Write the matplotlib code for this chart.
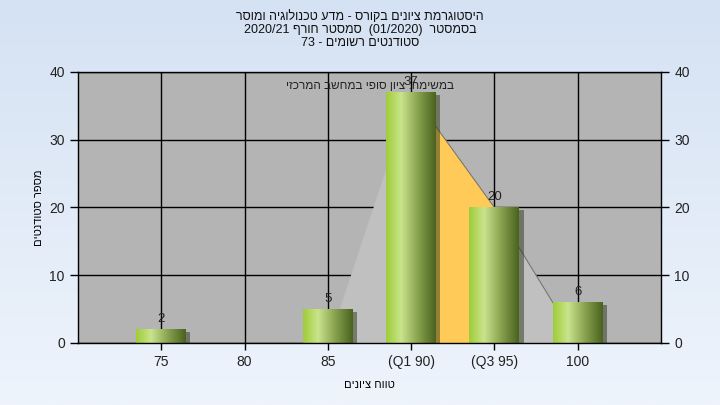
import re
import numpy as np
import matplotlib
matplotlib.use("Agg")
import matplotlib.pyplot as plt
import matplotlib.patheffects as pe
from matplotlib.colors import LinearSegmentedColormap

plt.rcParams['font.family'] = ['Liberation Sans', 'DejaVu Sans']

# data
categories = ["75", "80", "85", "(Q1 90)", "(Q3 95)", "100"]
counts = [2, 0, 5, 37, 20, 6]
quartile_area = [0, 0, 0, 37, 20, 0]
title_lines = [
    "היסטוגרמת ציונים בקורס - מדע טכנולוגיה ומוסר",
    "בסמסטר  (01/2020)  סמסטר חורף 2020/21",
    "סטודנטים רשומים - 73",
]
note = "במשימה: ציון סופי במחשב המרכזי"
x_label = "טווח ציונים"
y_label = "מספר סטודנטים"


def rtl(s):
    # matplotlib lays glyphs out left to right, so put hebrew in visual order
    s = s[::-1]
    s = re.sub(r'[0-9A-Za-z/.]+', lambda m: m.group(0)[::-1], s)
    return s.translate(str.maketrans('()', ')('))


fig = plt.figure(figsize=(7.2, 4.05), dpi=100)

# page background gradient
bg = fig.add_axes([0, 0, 1, 1], zorder=0)
bg_cmap = LinearSegmentedColormap.from_list("bg", ["#eef4fc", "#d5e2f3"])
bg.imshow(np.linspace(0, 1, 256).reshape(-1, 1)[::-1], cmap=bg_cmap,
          aspect='auto', extent=[0, 1, 0, 1])
bg.axis('off')

ax = fig.add_axes([78 / 720, 62 / 405, 583 / 720, 271 / 405], zorder=1)
ax.set_facecolor('#b4b4b4')
x = np.arange(len(categories))

ax.set_axisbelow(True)
ax.grid(True, color='black', linewidth=1)

ax.fill_between(x, quartile_area, color='#c0c0c0', linewidth=0, zorder=1)
ax.fill_between(x[3:5], quartile_area[3:5], color='#ffca58', linewidth=0, zorder=1.1)
ax.plot(x[3:], quartile_area[3:], color='#6e6e6e', linewidth=0.7, zorder=1.2)

bars = ax.bar(x, counts, width=0.6, color='#8fb04a', zorder=2,
              path_effects=[pe.SimplePatchShadow(offset=(3, -2), alpha=0.5),
                            pe.Normal()])
bar_cmap = LinearSegmentedColormap.from_list(
    "bar", [(0, '#a0cd3a'), (0.3, '#c9e48c'), (0.65, '#87a14e'), (1, '#4a6420')])
grad = np.linspace(0, 1, 64).reshape(1, -1)
for b in bars:
    if b.get_height() <= 0:
        continue
    im = ax.imshow(grad, cmap=bar_cmap, aspect='auto', zorder=2.1,
                   extent=[b.get_x(), b.get_x() + b.get_width(), 0, b.get_height()])
    im.set_clip_path(b)

ax.bar_label(bars, labels=[str(c) if c else '' for c in counts],
             padding=3, fontsize=9.5, color='#222222', zorder=3)

ax.set_xlim(-1, len(categories))
ax.set_ylim(0, 40)
ax.set_xticks(x)
ax.set_xticklabels(categories)
ax.set_yticks(range(0, 41, 10))
ax.tick_params(axis='y', direction='out', length=6, width=1, labelsize=10,
               right=True, labelright=True, labelcolor='#222222')
ax.tick_params(axis='x', direction='out', length=5, width=1, labelsize=10,
               labelcolor='#222222')
for s in ax.spines.values():
    s.set_color('black')
    s.set_linewidth(1)

ax.text(0.5, 0.948, rtl(note), transform=ax.transAxes, ha='center',
        va='center', fontsize=8.5, color='#222222', zorder=4)

ax.set_xlabel(rtl(x_label), fontsize=8, labelpad=8)
ax.set_ylabel(rtl(y_label), fontsize=8, labelpad=4)

for i, line in enumerate(title_lines):
    fig.text(0.5, 1 - (17 + 13 * i) / 405, rtl(line), ha='center',
             va='center', fontsize=9, color='#111111')

fig.savefig("out.png", dpi=100)
